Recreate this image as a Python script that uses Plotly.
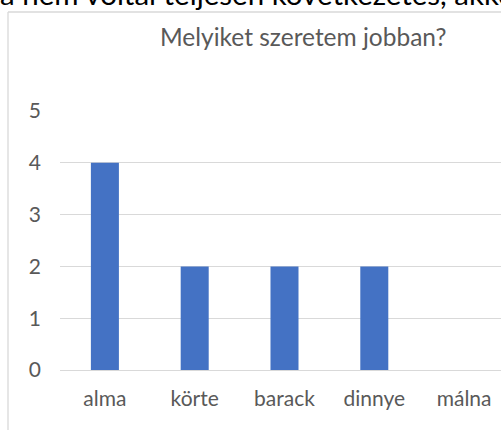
import plotly.graph_objects as go

categories = ["alma", "körte", "barack", "dinnye", "málna"]
values = [4, 2, 2, 2, 0]
y_ticks = [0, 1, 2, 3, 4, 5]
title_text = "Melyiket szeretem jobban?"
top_text = "a nem voltál teljesen következetes, akkor"

W, H = 501, 430
L, R, T, B = 60, 0, 111, 60
pw, ph = W - L - R, H - T - B

def px(x):
    return (x - L) / pw

def py(y):
    return (H - B - y) / ph

fig = go.Figure(go.Bar(
    x=list(range(len(categories))), y=values,
    marker=dict(color="#4472C4", line=dict(width=0)),
    hoverinfo="skip",
))

fig.update_layout(
    width=W, height=H,
    margin=dict(l=L, r=R, t=T, b=B, pad=0),
    paper_bgcolor="white", plot_bgcolor="white",
    bargap=0.688,
    showlegend=False,
    font=dict(family="Lato", color="#595959"),
    xaxis=dict(
        range=[-0.5, 4.411], tickmode="array",
        tickvals=list(range(len(categories))), ticktext=categories,
        showgrid=False, zeroline=False, showline=False,
        ticks="", tickfont=dict(size=21, color="#595959"),
        ticklabelstandoff=14, fixedrange=True,
    ),
    yaxis=dict(
        range=[0, 5], tickmode="array", tickvals=y_ticks,
        showgrid=True, gridcolor="#D9D9D9", gridwidth=1.3,
        zeroline=True, zerolinecolor="#D9D9D9", zerolinewidth=1.3,
        showline=False, ticks="", tickfont=dict(size=21, color="#595959"),
        ticklabelstandoff=18, fixedrange=True,
    ),
    shapes=[
        dict(type="line", xref="paper", yref="paper",
             x0=px(8), x1=px(8), y0=py(12), y1=py(440),
             line=dict(color="#D9D9D9", width=1.3)),
        dict(type="line", xref="paper", yref="paper",
             x0=px(8), x1=px(520), y0=py(12), y1=py(12),
             line=dict(color="#D9D9D9", width=1.3)),
    ],
    annotations=[
        dict(text=title_text, xref="paper", yref="paper",
             x=px(303), y=py(37), xanchor="center", yanchor="middle",
             showarrow=False, font=dict(size=24.5, color="#595959", family="Lato")),
        dict(text=top_text, xref="paper", yref="paper",
             x=px(-2), y=py(13), xanchor="left", yanchor="bottom",
             showarrow=False, font=dict(size=29.5, color="#000000", family="Lato")),
    ],
)

fig.write_html("out.html", config={"displayModeBar": False})
